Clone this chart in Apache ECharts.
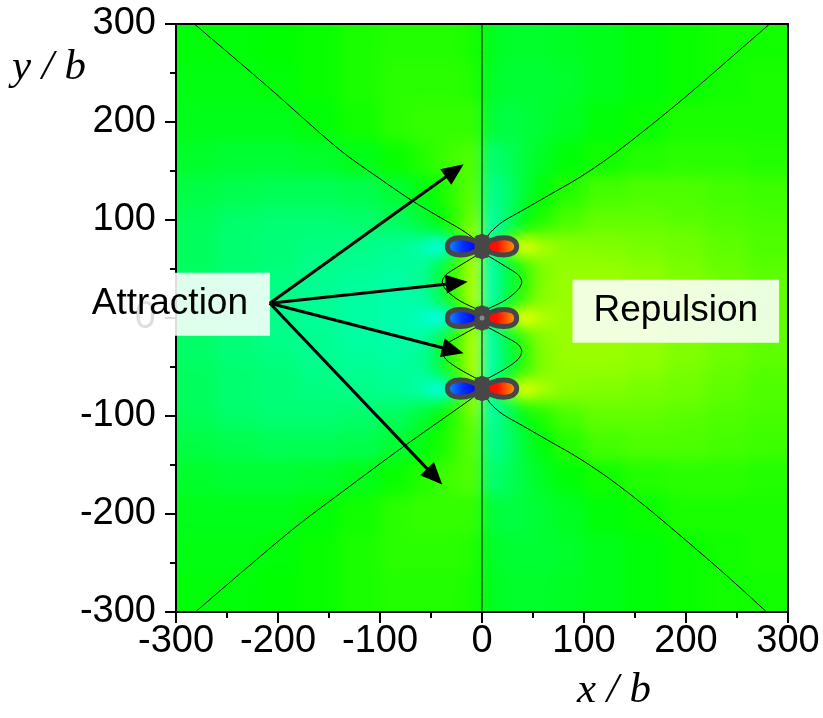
<!DOCTYPE html>
<html><head><meta charset="utf-8">
<script src="https://cdn.jsdelivr.net/npm/echarts@6/dist/echarts.min.js"></script>
<style>
html,body{margin:0;padding:0;background:#fff;}
#wrap{position:relative;width:823px;height:718px;overflow:hidden;}
#clip{position:absolute;left:176px;top:24px;width:612px;height:588px;overflow:hidden;}
#heat{position:absolute;left:-176px;top:-24px;width:823px;height:718px;filter:blur(7px);}
#main{position:absolute;left:0;top:0;width:823px;height:718px;}
</style>
</head><body>
<div id="wrap"><div id="clip"><div id="heat"></div></div><div id="main"></div></div>
<script>
// ---------- data ----------
const xEdges = [-300,-260,-220,-180,-140,-100,-70,-50,-35,-20,-8,0,8,20,35,50,70,100,140,180,220,260,300];
const yEdges = [300,260,220,180,145,115,95,83,63,48,32,10,-10,-32,-48,-63,-83,-95,-115,-145,-180,-220,-260,-300];
// field level per cell, rows top -> bottom, columns left -> right
const fieldRows = [
 [-0.1,-0.1,0.0,0.1,0.3,0.4,0.4,0.4,0.4,0.3,0.2, -0.3,-0.4,-0.5,-0.5,-0.5,-0.4,-0.3,-0.1,0.1,0.2,0.2],
 [-0.2,-0.2,-0.1,0.1,0.3,0.5,0.5,0.5,0.5,0.4,0.3, -0.4,-0.5,-0.6,-0.6,-0.6,-0.5,-0.3,-0.1,0.1,0.2,0.3],
 [-0.3,-0.3,-0.3,-0.1,0.2,0.5,0.6,0.6,0.6,0.6,0.6, -0.7,-0.7,-0.8,-0.7,-0.6,-0.4,-0.1,0.1,0.3,0.3,0.3],
 [-0.5,-0.6,-0.6,-0.5,-0.3,0.1,0.4,0.6,0.8,0.9,1.0, -1.4,-1.3,-1.0,-0.7,-0.4,-0.1,0.2,0.4,0.5,0.5,0.4],
 [-0.8,-0.9,-1.0,-1.0,-0.9,-0.6,-0.2,0.2,0.6,1.0,1.2, -1.8,-1.6,-1.2,-0.6,-0.1,0.4,0.8,0.9,0.9,0.8,0.7],
 [-1.0,-1.2,-1.3,-1.3,-1.2,-1.0,-0.6,-0.1,0.5,1.1,1.6, -2.0,-1.8,-1.1,-0.3,0.3,0.8,1.1,1.1,1.0,0.9,0.8],
 [-1.1,-1.3,-1.4,-1.4,-1.4,-1.3,-1.0,-0.6,0.5,1.6,2.2, -2.4,-2.0,-1.0,0.4,0.8,1.1,1.3,1.3,1.2,1.0,0.9],
 [-1.1,-1.3,-1.4,-1.5,-1.6,-1.7,-2.0,-2.8,-1.8,0.8,2.0, -2.0,-0.8,1.8,2.8,2.0,1.6,1.5,1.4,1.3,1.1,0.9],
 [-1.1,-1.3,-1.4,-1.6,-1.7,-1.8,-1.8,-1.0,0.5,1.8,2.6, -2.6,-1.8,-0.6,0.8,1.5,1.7,1.7,1.6,1.4,1.2,1.0],
 [-1.2,-1.4,-1.5,-1.7,-1.8,-1.9,-1.7,-0.8,0.7,1.8,2.5, -2.5,-1.8,-0.8,0.5,1.5,1.8,1.8,1.7,1.5,1.3,1.1],
 [-1.2,-1.4,-1.6,-1.7,-1.9,-2.0,-1.9,-1.1,0.5,1.8,2.6, -2.6,-1.8,-0.6,0.8,1.6,1.8,1.8,1.7,1.5,1.3,1.1],
 [-1.2,-1.4,-1.6,-1.8,-1.9,-2.0,-2.2,-2.9,-1.8,0.8,2.0, -2.0,-0.8,1.8,2.9,2.1,1.8,1.8,1.7,1.5,1.3,1.1],
 [-1.2,-1.4,-1.6,-1.7,-1.9,-2.0,-1.9,-1.1,0.5,1.8,2.6, -2.6,-1.8,-0.6,0.8,1.6,1.8,1.8,1.7,1.5,1.3,1.1],
 [-1.2,-1.4,-1.5,-1.7,-1.8,-1.9,-1.7,-0.8,0.7,1.8,2.5, -2.5,-1.8,-0.8,0.5,1.5,1.8,1.8,1.7,1.5,1.3,1.1],
 [-1.1,-1.3,-1.4,-1.6,-1.7,-1.8,-1.8,-1.0,0.5,1.8,2.6, -2.6,-1.8,-0.6,0.8,1.5,1.7,1.7,1.6,1.4,1.2,1.0],
 [-1.1,-1.3,-1.4,-1.5,-1.6,-1.7,-2.0,-2.8,-1.8,0.8,2.0, -2.0,-0.8,1.8,2.8,2.0,1.6,1.5,1.4,1.3,1.1,0.9],
 [-1.1,-1.3,-1.4,-1.4,-1.4,-1.3,-1.0,-0.6,0.5,1.6,2.2, -2.4,-2.0,-1.0,0.4,0.8,1.1,1.3,1.3,1.2,1.0,0.9],
 [-1.0,-1.2,-1.3,-1.3,-1.2,-1.0,-0.6,-0.1,0.5,1.1,1.6, -2.0,-1.8,-1.1,-0.3,0.3,0.8,1.1,1.1,1.0,0.9,0.8],
 [-0.8,-0.9,-1.0,-1.0,-0.9,-0.6,-0.2,0.2,0.6,1.0,1.2, -1.8,-1.6,-1.2,-0.6,-0.1,0.4,0.8,0.9,0.9,0.8,0.7],
 [-0.5,-0.6,-0.6,-0.5,-0.3,0.1,0.4,0.6,0.8,0.9,1.0, -1.4,-1.3,-1.0,-0.7,-0.4,-0.1,0.2,0.4,0.5,0.5,0.4],
 [-0.3,-0.3,-0.3,-0.1,0.2,0.5,0.6,0.6,0.6,0.6,0.6, -0.7,-0.7,-0.8,-0.7,-0.6,-0.4,-0.1,0.1,0.3,0.3,0.3],
 [-0.2,-0.2,-0.1,0.1,0.3,0.5,0.5,0.5,0.5,0.4,0.3, -0.4,-0.5,-0.6,-0.6,-0.6,-0.5,-0.3,-0.1,0.1,0.2,0.3],
 [-0.1,-0.1,0.0,0.1,0.3,0.4,0.4,0.4,0.4,0.3,0.2, -0.3,-0.4,-0.5,-0.5,-0.5,-0.4,-0.3,-0.1,0.1,0.2,0.2]
];
const colorScale = ['#0000ff','#00ffff','#00ff00','#ffff00','#ff0000'];

const xTicks = [-300,-200,-100,0,100,200,300];
const yTicks = [-300,-200,-100,0,100,200,300];

const dislocations = [[0,73],[0,0],[0,-72]];

const contourVertical   = [[0,-300],[0,300]];
const contourUpperLeft  = [[-282,300],[-210,236],[-140,172],[-100,142],[-69,120],[-40,102],[-20,90],[-9,82],[-3,77]];
const contourUpperRight = [[282,300],[240,262],[200,226],[160,192],[125,164],[95,143],[65,125],[40,110],[20,98],[8,87],[3,79]];
const contourLowerLeft  = [[-281,-300],[-186,-216],[-130,-172],[-82,-135],[-33,-99],[-10,-82],[-3,-76]];
const contourLowerRight = [[279,-300],[240,-263],[200,-227],[160,-192],[125,-164],[95,-143],[65,-125],[40,-110],[20,-98],[8,-87],[3,-78]];
const lensUpperLeft  = [[-5,64],[-24,52],[-35.5,44],[-39,37],[-35.5,29],[-22.5,18],[-5,9]];
const lensUpperRight = [[5,64],[24,52],[35.5,44],[39,37],[35.5,29],[22.5,18],[5,9]];
const lensLowerLeft  = [[-5,-9],[-22.5,-19],[-35.5,-27],[-39,-34],[-35.5,-42],[-24,-51],[-5,-62]];
const lensLowerRight = [[5,-9],[22.5,-19],[35.5,-27],[39,-34],[35.5,-42],[24,-51],[5,-62]];

const arrowOrigin = [-208,15];
const arrowTips = [[-18,157],[-14,37],[-18,-36],[-39,-170]];

const annotations = [
  {text:'Attraction', x:-306, y:14},
  {text:'Repulsion',  x:190,  y:7}
];

// ---------- build ----------
const GRID = {left:176, top:24, width:612, height:588, containLabel:false, outerBoundsMode:'none'};
const X_MIN=-300, X_MAX=300, Y_MIN=-300, Y_MAX=300;

const cells = [];
for (let r = 0; r < fieldRows.length; r++) {
  for (let c = 0; c < fieldRows[r].length; c++) {
    cells.push([xEdges[c], xEdges[c+1], yEdges[r+1], yEdges[r], fieldRows[r][c]]);
  }
}

const heat = echarts.init(document.getElementById('heat'), null, {renderer:'canvas'});
heat.setOption({
  animation:false,
  backgroundColor:'transparent',
  grid: GRID,
  xAxis:{type:'value', min:X_MIN, max:X_MAX, show:false},
  yAxis:{type:'value', min:Y_MIN, max:Y_MAX, show:false},
  visualMap:{show:false, type:'continuous', min:-6, max:6, dimension:4, seriesIndex:0, inRange:{color:colorScale}},
  series:[{
    type:'custom', clip:false, silent:true,
    data: cells,
    renderItem: function(params, api){
      const x0=api.value(0), x1=api.value(1), y0=api.value(2), y1=api.value(3);
      const p0 = api.coord([x0, y1]);
      const p1 = api.coord([x1, y0]);
      let l=p0[0], t=p0[1], rr=p1[0], b=p1[1];
      const pad = 30;
      if (x0 <= X_MIN) l -= pad;
      if (x1 >= X_MAX) rr += pad;
      if (y1 >= Y_MAX) t -= pad;
      if (y0 <= Y_MIN) b += pad;
      return {type:'rect', shape:{x:l, y:t, width:rr-l+0.8, height:b-t+0.8}, style:{fill: api.visual('color')}};
    }
  }]
});

const main = echarts.init(document.getElementById('main'), null, {renderer:'canvas'});
const FONT = "'Liberation Sans', Arial, sans-serif";
const axisBlack = {color:'#000', width:2};

function lineSeries(data){
  return {type:'line', data:data, showSymbol:false, symbol:'none', smooth:0.3, silent:true, z:3,
          lineStyle:{color:'#000', width:1}, animation:false};
}

function lobePath(cx, cy, L, H, s){
  return 'M'+cx+','+cy+
    ' C'+(cx+s*0.35*L)+','+(cy-1.25*H)+' '+(cx+s*L)+','+(cy-1.3*H)+' '+(cx+s*L)+','+cy+
    ' C'+(cx+s*L)+','+(cy+1.3*H)+' '+(cx+s*0.35*L)+','+(cy+1.25*H)+' '+cx+','+cy+' Z';
}
const LOBE_LEN = 34, LOBE_HALF = 9.2;

main.setOption({
  animation:false,
  backgroundColor:'transparent',
  grid: GRID,
  xAxis:[
    {type:'value', min:X_MIN, max:X_MAX, interval:100, position:'bottom',
     axisLine:{show:true, onZero:false, lineStyle:axisBlack},
     axisTick:{show:true, inside:false, length:11, lineStyle:axisBlack},
     minorTick:{show:true, splitNumber:2, length:6, lineStyle:axisBlack},
     axisLabel:{show:true, fontSize:38, color:'#000', fontFamily:FONT, margin:11},
     splitLine:{show:false}, minorSplitLine:{show:false}},
    {type:'value', min:X_MIN, max:X_MAX, position:'top',
     axisLine:{show:true, onZero:false, lineStyle:axisBlack},
     axisTick:{show:false}, axisLabel:{show:false}, splitLine:{show:false}}
  ],
  yAxis:[
    {type:'value', min:Y_MIN, max:Y_MAX, interval:100, position:'left',
     axisLine:{show:true, onZero:false, lineStyle:axisBlack},
     axisTick:{show:true, inside:false, length:11, lineStyle:axisBlack},
     minorTick:{show:true, splitNumber:2, length:6, lineStyle:axisBlack},
     axisLabel:{show:true, fontSize:38, color:'#000', fontFamily:FONT, margin:20},
     splitLine:{show:false}, minorSplitLine:{show:false}},
    {type:'value', min:Y_MIN, max:Y_MAX, position:'right',
     axisLine:{show:true, onZero:false, lineStyle:axisBlack},
     axisTick:{show:false}, axisLabel:{show:false}, splitLine:{show:false}}
  ],
  graphic:[
    {type:'text', left:12, top:46, z:10,
     style:{text:'y / b', font:"italic 43px 'Liberation Serif', 'DejaVu Serif', serif", fill:'#000'}},
    {type:'text', left:577, top:669, z:10,
     style:{text:'x / b', font:"italic 43px 'Liberation Serif', 'DejaVu Serif', serif", fill:'#000'}}
  ],
  series:[
    lineSeries(contourVertical),
    lineSeries(contourUpperLeft),
    lineSeries(contourUpperRight),
    lineSeries(contourLowerLeft),
    lineSeries(contourLowerRight),
    lineSeries(lensUpperLeft),
    lineSeries(lensUpperRight),
    lineSeries(lensLowerLeft),
    lineSeries(lensLowerRight),
    { // dislocation cores and lobes
      type:'custom', clip:false, silent:true, z:5,
      data: dislocations,
      renderItem: function(params, api){
        const p = api.coord([api.value(0), api.value(1)]);
        const L = api.size([LOBE_LEN, 0])[0];
        const H = api.size([0, LOBE_HALF])[1];
        const cx = p[0], cy = p[1];
        const blue = new echarts.graphic.LinearGradient(0,0,1,0,[
          {offset:0, color:'#1a9cff'},{offset:0.45, color:'#0030ff'},{offset:0.8, color:'#0000ff'},{offset:1, color:'#0000e0'}]);
        const red = new echarts.graphic.LinearGradient(0,0,1,0,[
          {offset:0, color:'#ff0000'},{offset:0.45, color:'#ff1000'},{offset:0.8, color:'#ff7a00'},{offset:1, color:'#ffb000'}]);
        const children = [
          {type:'path', shape:{pathData: lobePath(cx, cy, L, H, -1)}, style:{fill:blue, stroke:'#474747', lineWidth:5}},
          {type:'path', shape:{pathData: lobePath(cx, cy, L, H, 1)}, style:{fill:red, stroke:'#474747', lineWidth:5}},
          {type:'rect', shape:{x:cx-7.5, y:cy-11.5, width:15, height:23, r:4}, style:{fill:'#474747'}},
          {type:'rect', shape:{x:cx-3, y:cy-12.5, width:6, height:25, r:2}, style:{fill:'#474747'}}
        ];
        if (params.dataIndex === 1) {
          children.push({type:'circle', shape:{cx:cx, cy:cy, r:2.5}, style:{fill:'#8a8a8a'}});
        }
        return {type:'group', children:children};
      }
    },
    { // annotation boxes
      type:'custom', clip:false, silent:true, z:6,
      data: annotations.map(a => [a.x, a.y]),
      renderItem: function(params, api){
        const p = api.coord([api.value(0), api.value(1)]);
        const a = annotations[params.dataIndex];
        const pad = params.dataIndex === 0 ? [14,22,12,22] : [14,21,12,21];
        return {type:'text', x:p[0], y:p[1],
          style:{text:a.text, font:"37px 'Liberation Sans', Arial, sans-serif", fill:'#000',
                 align:'center', verticalAlign:'middle',
                 backgroundColor:'rgba(255,255,255,0.87)', padding:pad}};
      }
    },
    { // arrows
      type:'custom', clip:false, silent:true, z:7,
      data: arrowTips.map(t => [arrowOrigin[0], arrowOrigin[1], t[0], t[1]]),
      renderItem: function(params, api){
        const p0 = api.coord([api.value(0), api.value(1)]);
        const p1 = api.coord([api.value(2), api.value(3)]);
        const dx = p1[0]-p0[0], dy = p1[1]-p0[1];
        const len = Math.sqrt(dx*dx+dy*dy);
        const ux = dx/len, uy = dy/len;
        const headL = 22, headW = 9.5;
        const bx = p1[0]-ux*headL, by = p1[1]-uy*headL;
        return {type:'group', children:[
          {type:'line', shape:{x1:p0[0], y1:p0[1], x2:bx+ux*2, y2:by+uy*2}, style:{stroke:'#000', lineWidth:3}},
          {type:'polygon', shape:{points:[[p1[0],p1[1]],[bx-uy*headW, by+ux*headW],[bx+uy*headW, by-ux*headW]]}, style:{fill:'#000'}}
        ]};
      }
    }
  ]
});
</script>
</body></html>
